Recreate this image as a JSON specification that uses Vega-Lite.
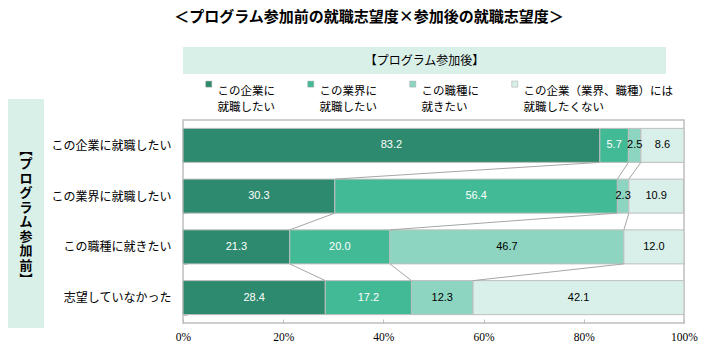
{
  "$schema": "https://vega.github.io/schema/vega-lite/v6.json",
  "padding": {"left": 8, "top": 10, "right": 5, "bottom": 5},
  "background": "white",
  "config": {
    "font": "Noto Sans CJK JP",
    "view": {"stroke": null},
    "style": {"guide-label": {"lineHeight": 16}}
  },
  "title": {
    "text": "＜プログラム参加前の就職志望度×参加後の就職志望度＞",
    "fontSize": 15,
    "fontWeight": "bold",
    "anchor": "middle",
    "offset": 22,
    "dx": 16,
    "color": "black",
    "font": "Noto Sans CJK JP"
  },
  "resolve": {"legend": {"color": "independent"}},
  "datasets": {
    "bars": [
      {"cat": "この企業に就職したい", "series": "この企業に\n就職したい", "i": 1, "v": 83.2},
      {"cat": "この企業に就職したい", "series": "この業界に\n就職したい", "i": 2, "v": 5.7},
      {"cat": "この企業に就職したい", "series": "この職種に\n就きたい", "i": 3, "v": 2.5},
      {"cat": "この企業に就職したい", "series": "この企業（業界、職種）には\n就職したくない", "i": 4, "v": 8.6},
      {"cat": "この業界に就職したい", "series": "この企業に\n就職したい", "i": 1, "v": 30.3},
      {"cat": "この業界に就職したい", "series": "この業界に\n就職したい", "i": 2, "v": 56.4},
      {"cat": "この業界に就職したい", "series": "この職種に\n就きたい", "i": 3, "v": 2.3},
      {"cat": "この業界に就職したい", "series": "この企業（業界、職種）には\n就職したくない", "i": 4, "v": 10.9},
      {"cat": "この職種に就きたい", "series": "この企業に\n就職したい", "i": 1, "v": 21.3},
      {"cat": "この職種に就きたい", "series": "この業界に\n就職したい", "i": 2, "v": 20.0},
      {"cat": "この職種に就きたい", "series": "この職種に\n就きたい", "i": 3, "v": 46.7},
      {"cat": "この職種に就きたい", "series": "この企業（業界、職種）には\n就職したくない", "i": 4, "v": 12.0},
      {"cat": "志望していなかった", "series": "この企業に\n就職したい", "i": 1, "v": 28.4},
      {"cat": "志望していなかった", "series": "この業界に\n就職したい", "i": 2, "v": 17.2},
      {"cat": "志望していなかった", "series": "この職種に\n就きたい", "i": 3, "v": 12.3},
      {"cat": "志望していなかった", "series": "この企業（業界、職種）には\n就職したくない", "i": 4, "v": 42.1}
    ],
    "links": [
      {"from": "この企業に就職したい", "to": "この業界に就職したい", "x1": 83.2, "x2": 30.3},
      {"from": "この企業に就職したい", "to": "この業界に就職したい", "x1": 88.9, "x2": 86.7},
      {"from": "この企業に就職したい", "to": "この業界に就職したい", "x1": 91.4, "x2": 89.0},
      {"from": "この業界に就職したい", "to": "この職種に就きたい", "x1": 30.3, "x2": 21.3},
      {"from": "この業界に就職したい", "to": "この職種に就きたい", "x1": 86.7, "x2": 41.3},
      {"from": "この業界に就職したい", "to": "この職種に就きたい", "x1": 89.0, "x2": 88.0},
      {"from": "この職種に就きたい", "to": "志望していなかった", "x1": 21.3, "x2": 28.4},
      {"from": "この職種に就きたい", "to": "志望していなかった", "x1": 41.3, "x2": 45.6},
      {"from": "この職種に就きたい", "to": "志望していなかった", "x1": 88.0, "x2": 57.9}
    ]
  },
  "columns": 2,
  "align": "each",
  "bounds": "flush",
  "spacing": {"row": 0, "column": 139},
  "concat": [
    {
      "width": 36, "height": 52,
      "data": {"values": []},
      "mark": "text",
      "encoding": {}
    },
    {
      "width": 483, "height": 27,
      "view": {"fill": "#D9F0E9", "stroke": null},
      "data": {"values": [{"t": "【プログラム参加後】"}]},
      "mark": {"type": "text", "fontSize": 12, "color": "black"},
      "encoding": {"text": {"field": "t", "type": "nominal"}}
    },
    {
      "width": 36, "height": 21,
      "view": {"fill": "#D9F0E9", "stroke": null},
      "data": {"values": []},
      "mark": "text",
      "encoding": {}
    },
    {
      "width": 1, "height": 21,
      "data": {"values": []},
      "mark": "text",
      "encoding": {}
    },
    {
      "width": 36, "height": 203,
      "view": {"fill": "#D9F0E9", "stroke": null},
      "data": {"values": [{"t": "︻\nプ\nロ\nグ\nラ\nム\n参\n加\n前\n︼"}]},
      "mark": {"type": "text", "fontSize": 13, "fontWeight": "bold", "lineHeight": 14.5, "lineBreak": "\n", "baseline": "top", "dy": -78, "color": "black"},
      "encoding": {"text": {"field": "t", "type": "nominal"}}
    },
    {
      "width": 501, "height": 203,
      "view": {"stroke": "#BFBFBF", "strokeWidth": 1.5},
      "layer": [
        {
          "data": {"name": "bars"},
          "mark": {"type": "bar", "stroke": "#BFBFBF", "strokeWidth": 1},
          "encoding": {
            "y": {
              "field": "cat", "type": "nominal", "title": null, "sort": null,
              "scale": {"domain": ["この企業に就職したい", "この業界に就職したい", "この職種に就きたい", "志望していなかった"], "paddingInner": 0.33, "paddingOuter": 0.165},
              "axis": {"labelFontSize": 12, "labelColor": "black", "domain": false, "ticks": true, "tickBand": "extent", "tickSize": -4, "tickColor": "#BFBFBF", "labelPadding": 16, "title": null}
            },
            "x": {
              "field": "v", "type": "quantitative", "stack": "zero", "title": null,
              "scale": {"domain": [0, 100], "nice": false},
              "axis": {"values": [0, 20, 40, 60, 80, 100], "labelExpr": "datum.value + '%'", "domain": false, "grid": false, "tickSize": -4, "tickColor": "#BFBFBF", "labelFont": "Liberation Sans Narrow", "labelFontSize": 11.5, "labelColor": "black", "labelPadding": 12, "labelFlush": false, "title": null}
            },
            "color": {
              "field": "series", "type": "nominal",
              "scale": {
                "domain": ["この企業に\n就職したい", "この業界に\n就職したい", "この職種に\n就きたい", "この企業（業界、職種）には\n就職したくない"],
                "range": ["#2E8A6E", "#43BA96", "#8DD5C0", "#D9F0EA"]
              },
              "legend": {
                "title": null, "orient": "top", "direction": "horizontal", "columns": 4, "columnPadding": 30,
                "symbolType": "M-1,-3.667H1V-1.667H-1Z", "symbolSize": 36,
                "symbolStrokeColor": "#A0A0A0", "symbolStrokeWidth": 0.5,
                "labelFontSize": 11.5, "labelColor": "black",
                "labelExpr": "split(datum.label, '\\n')",
                "labelOffset": 3, "labelLimit": 300,
                "padding": 20, "offset": -14
              }
            },
            "order": {"field": "i", "type": "quantitative"}
          }
        },
        {
          "data": {"name": "links"},
          "mark": {"type": "rule", "color": "#A6A6A6", "strokeWidth": 1},
          "encoding": {
            "y": {"field": "from", "type": "nominal", "bandPosition": 1, "title": null, "scale": {"domain": ["この企業に就職したい", "この業界に就職したい", "この職種に就きたい", "志望していなかった"]}},
            "y2": {"field": "to", "bandPosition": 0},
            "x": {"field": "x1", "type": "quantitative", "title": null},
            "x2": {"field": "x2"}
          }
        },
        {
          "data": {"name": "bars"},
          "mark": {"type": "text", "fontSize": 11, "font": "Liberation Sans"},
          "encoding": {
            "y": {"field": "cat", "type": "nominal", "title": null},
            "x": {"field": "v", "type": "quantitative", "stack": "zero", "bandPosition": 0.5, "title": null},
            "detail": {"field": "series"},
            "order": {"field": "i", "type": "quantitative"},
            "text": {"field": "v", "type": "quantitative", "format": ".1f"},
            "color": {"condition": {"test": "datum.i <= 2", "value": "white"}, "value": "black"}
          }
        }
      ]
    },
    {
      "width": 36, "height": 5,
      "view": {"fill": "#D9F0E9", "stroke": null},
      "data": {"values": []},
      "mark": "text",
      "encoding": {}
    },
    {
      "width": 1, "height": 5,
      "data": {"values": []},
      "mark": "text",
      "encoding": {}
    }
  ]
}
